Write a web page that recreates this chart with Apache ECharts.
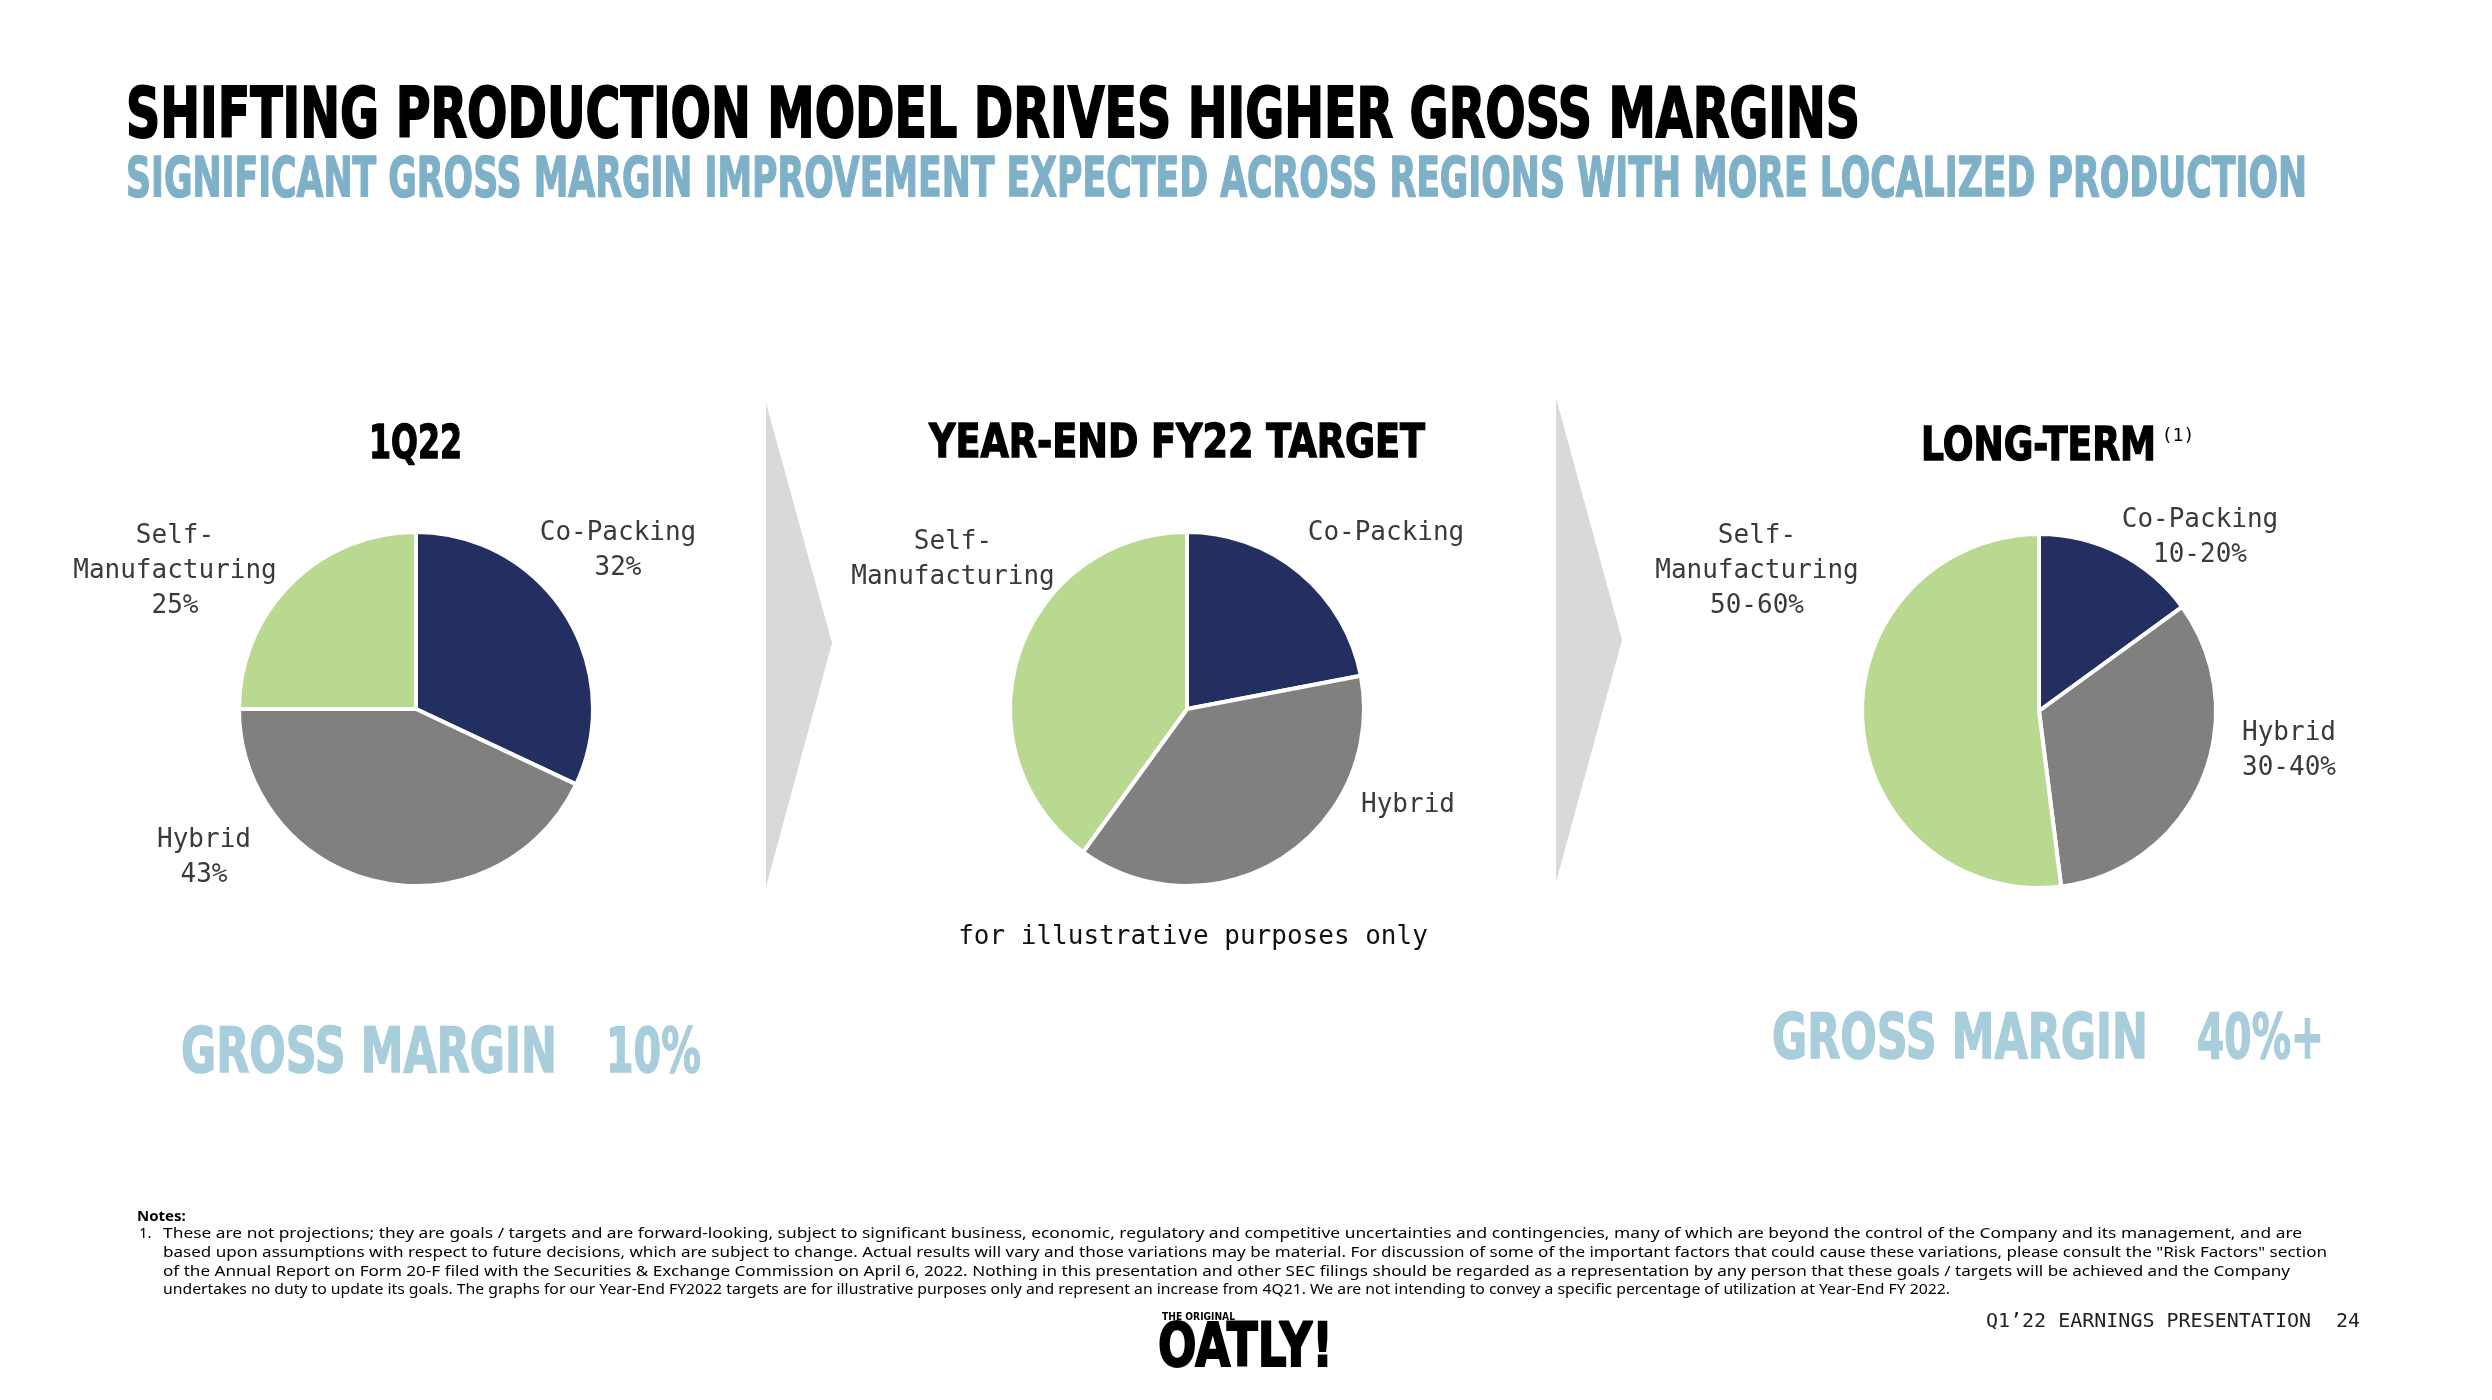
<!DOCTYPE html>
<html>
<head>
<meta charset="utf-8">
<script src="https://cdn.jsdelivr.net/npm/echarts@6/dist/echarts.min.js"></script>
<style>
html,body{margin:0;padding:0;background:#fff;}
#chart{width:2492px;height:1400px;}
</style>
</head>
<body>
<div id="chart"></div>
<script>
// ---------- DATA ----------
const categories = ['Co-Packing', 'Hybrid', 'Self-Manufacturing'];
const categoryLabels = ['Co-Packing', 'Hybrid', 'Self-\nManufacturing'];
const q122Values = [32, 43, 25];
const q122Labels = ['32%', '43%', '25%'];
const fy22Values = [22, 38, 40];
const fy22Labels = ['', '', ''];
const longTermValues = [15, 33, 52];
const longTermLabels = ['10-20%', '30-40%', '50-60%'];
const panelTitles = ['1Q22', 'YEAR-END FY22 TARGET', 'LONG-TERM'];
const grossMarginValues = ['10%', '40%+'];

const titleText = 'SHIFTING PRODUCTION MODEL DRIVES HIGHER GROSS MARGINS';
const subtitleText = 'SIGNIFICANT GROSS MARGIN IMPROVEMENT EXPECTED ACROSS REGIONS WITH MORE LOCALIZED PRODUCTION';
const noteLines = [
  'These are not projections; they are goals / targets and are forward-looking, subject to significant business, economic, regulatory and competitive uncertainties and contingencies, many of which are beyond the control of the Company and its management, and are',
  'based upon assumptions with respect to future decisions, which are subject to change. Actual results will vary and those variations may be material. For discussion of some of the important factors that could cause these variations, please consult the "Risk Factors" section',
  'of the Annual Report on Form 20-F filed with the Securities & Exchange Commission on April 6, 2022. Nothing in this presentation and other SEC filings should be regarded as a representation by any person that these goals / targets will be achieved and the Company',
  'undertakes no duty to update its goals. The graphs for our Year-End FY2022 targets are for illustrative purposes only and represent an increase from 4Q21. We are not intending to convey a specific percentage of utilization at Year-End FY 2022.'
];

// ---------- STYLE / LAYOUT ----------
const colors = ['#232f61', '#808080', '#b9d890'];
const DISPLAY = '"DejaVu Sans"';
const MONO = '"DejaVu Sans Mono"';
const pieCenters = [[416, 709], [1187, 709], [2039, 711]];
const pieRadius = 177;
// label centres per pie: [Co-Packing, Hybrid, Self]
const labelPos = [
  [[618, 551], [204, 858], [175, 571]],
  [[1386, 533], [1408, 805], [953, 560]],
  [[2200, 538], [2289, 751], [1757, 571]]
];

const measureCtx = document.createElement('canvas').getContext('2d');
function fit(text, font, width) {
  measureCtx.font = font;
  return width / measureCtx.measureText(text).width;
}
function fitText(text, font, fill, x, width, y, strokeW) {
  const style = { text: text, font: font, fill: fill, textAlign: 'left', align: 'left',
                  textVerticalAlign: 'middle', verticalAlign: 'middle' };
  if (strokeW) { style.stroke = fill; style.lineWidth = strokeW; }
  return { type: 'text', x: x, y: y, scaleX: fit(text, font, width), silent: true, style: style };
}
function plainText(text, font, fill, x, y, align) {
  return {
    type: 'text', x: x, y: y, silent: true,
    style: { text: text, font: font, fill: fill, textAlign: align, align: align,
             textVerticalAlign: 'middle', verticalAlign: 'middle' }
  };
}

const allValues = [q122Values, fy22Values, longTermValues];
const allLabels = [q122Labels, fy22Labels, longTermLabels];

const series = allValues.map((vals, si) => ({
  type: 'pie',
  center: pieCenters[si],
  radius: pieRadius,
  startAngle: 90,
  clockwise: true,
  avoidLabelOverlap: false,
  animation: false,
  silent: true,
  itemStyle: { borderColor: '#ffffff', borderWidth: 4 },
  label: {
    show: true,
    position: 'outside',
    fontFamily: MONO,
    fontSize: 26,
    lineHeight: 35,
    color: '#3a3a3a',
    align: 'center',
    formatter: p => categoryLabels[p.dataIndex] + (allLabels[si][p.dataIndex] ? '\n' + allLabels[si][p.dataIndex] : '')
  },
  labelLine: { show: false },
  labelLayout: params => ({
    x: labelPos[si][params.dataIndex][0],
    y: labelPos[si][params.dataIndex][1],
    align: 'center',
    verticalAlign: 'middle',
    hideOverlap: false
  }),
  emphasis: { disabled: true },
  data: vals.map((v, i) => ({ name: categories[i], value: v, itemStyle: { color: colors[i] } }))
}));

const graphics = [];
// arrows
graphics.push({ type: 'polygon', silent: true, shape: { points: [[766, 403], [832, 643], [766, 887]] }, style: { fill: '#d9d9d9' } });
graphics.push({ type: 'polygon', silent: true, shape: { points: [[1556, 398], [1622, 640], [1556, 882]] }, style: { fill: '#d9d9d9' } });
// titles
graphics.push(fitText(titleText, 'bold 69px ' + DISPLAY, '#000000', 126, 1734, 119, 2));
graphics.push(fitText(subtitleText, 'bold 55px ' + DISPLAY, '#7eb1c8', 126, 2181, 182, 1.5));
// panel titles
graphics.push(fitText(panelTitles[0], 'bold 47px ' + DISPLAY, '#000000', 369, 93, 446, 1.5));
graphics.push(fitText(panelTitles[1], 'bold 47px ' + DISPLAY, '#000000', 929, 496, 445, 1.5));
graphics.push(fitText(panelTitles[2], 'bold 47px ' + DISPLAY, '#000000', 1921, 235, 448, 1.5));
graphics.push(plainText('(1)', '18px ' + MONO, '#000000', 2178, 436, 'center'));
// illustrative note
graphics.push(plainText('for illustrative purposes only', '26px ' + MONO, '#111111', 1193, 937, 'center'));
// gross margin
graphics.push(fitText('GROSS MARGIN', 'bold 62px ' + DISPLAY, '#a8cddb', 181, 376, 1056, 1.5));
graphics.push(fitText(grossMarginValues[0], 'bold 62px ' + DISPLAY, '#a8cddb', 606, 95, 1056, 1.5));
graphics.push(fitText('GROSS MARGIN', 'bold 62px ' + DISPLAY, '#a8cddb', 1772, 376, 1042, 1.5));
graphics.push(fitText(grossMarginValues[1], 'bold 62px ' + DISPLAY, '#a8cddb', 2197, 127, 1042, 1.5));
// notes
graphics.push(plainText('Notes:', 'bold 15px "Noto Sans"', '#000000', 137, 1217, 'left'));
graphics.push(plainText('1.', '15px "Noto Sans"', '#000000', 139, 1234, 'left'));
const noteWidths = [2139, 2164, 2127, 1787];
noteLines.forEach((ln, i) => {
  graphics.push(fitText(ln, '15px "Noto Sans"', '#000000', 163, noteWidths[i], 1234 + i * 18.7));
});
// footer
graphics.push(plainText('Q1\u201922 EARNINGS PRESENTATION', '20px ' + MONO, '#222222', 2311, 1322, 'right'));
graphics.push(plainText('24', '20px ' + MONO, '#222222', 2336, 1322, 'left'));
// logo
graphics.push(fitText('THE ORIGINAL', 'bold 10px ' + DISPLAY, '#000000', 1162, 73, 1317));
graphics.push(fitText('OATLY!', 'bold 60px ' + DISPLAY, '#000000', 1158, 175, 1350, 2));

const chart = echarts.init(document.getElementById('chart'), null, { renderer: 'canvas' });
chart.setOption({
  backgroundColor: '#ffffff',
  animation: false,
  series: series,
  graphic: { elements: graphics }
});
</script>
</body>
</html>
